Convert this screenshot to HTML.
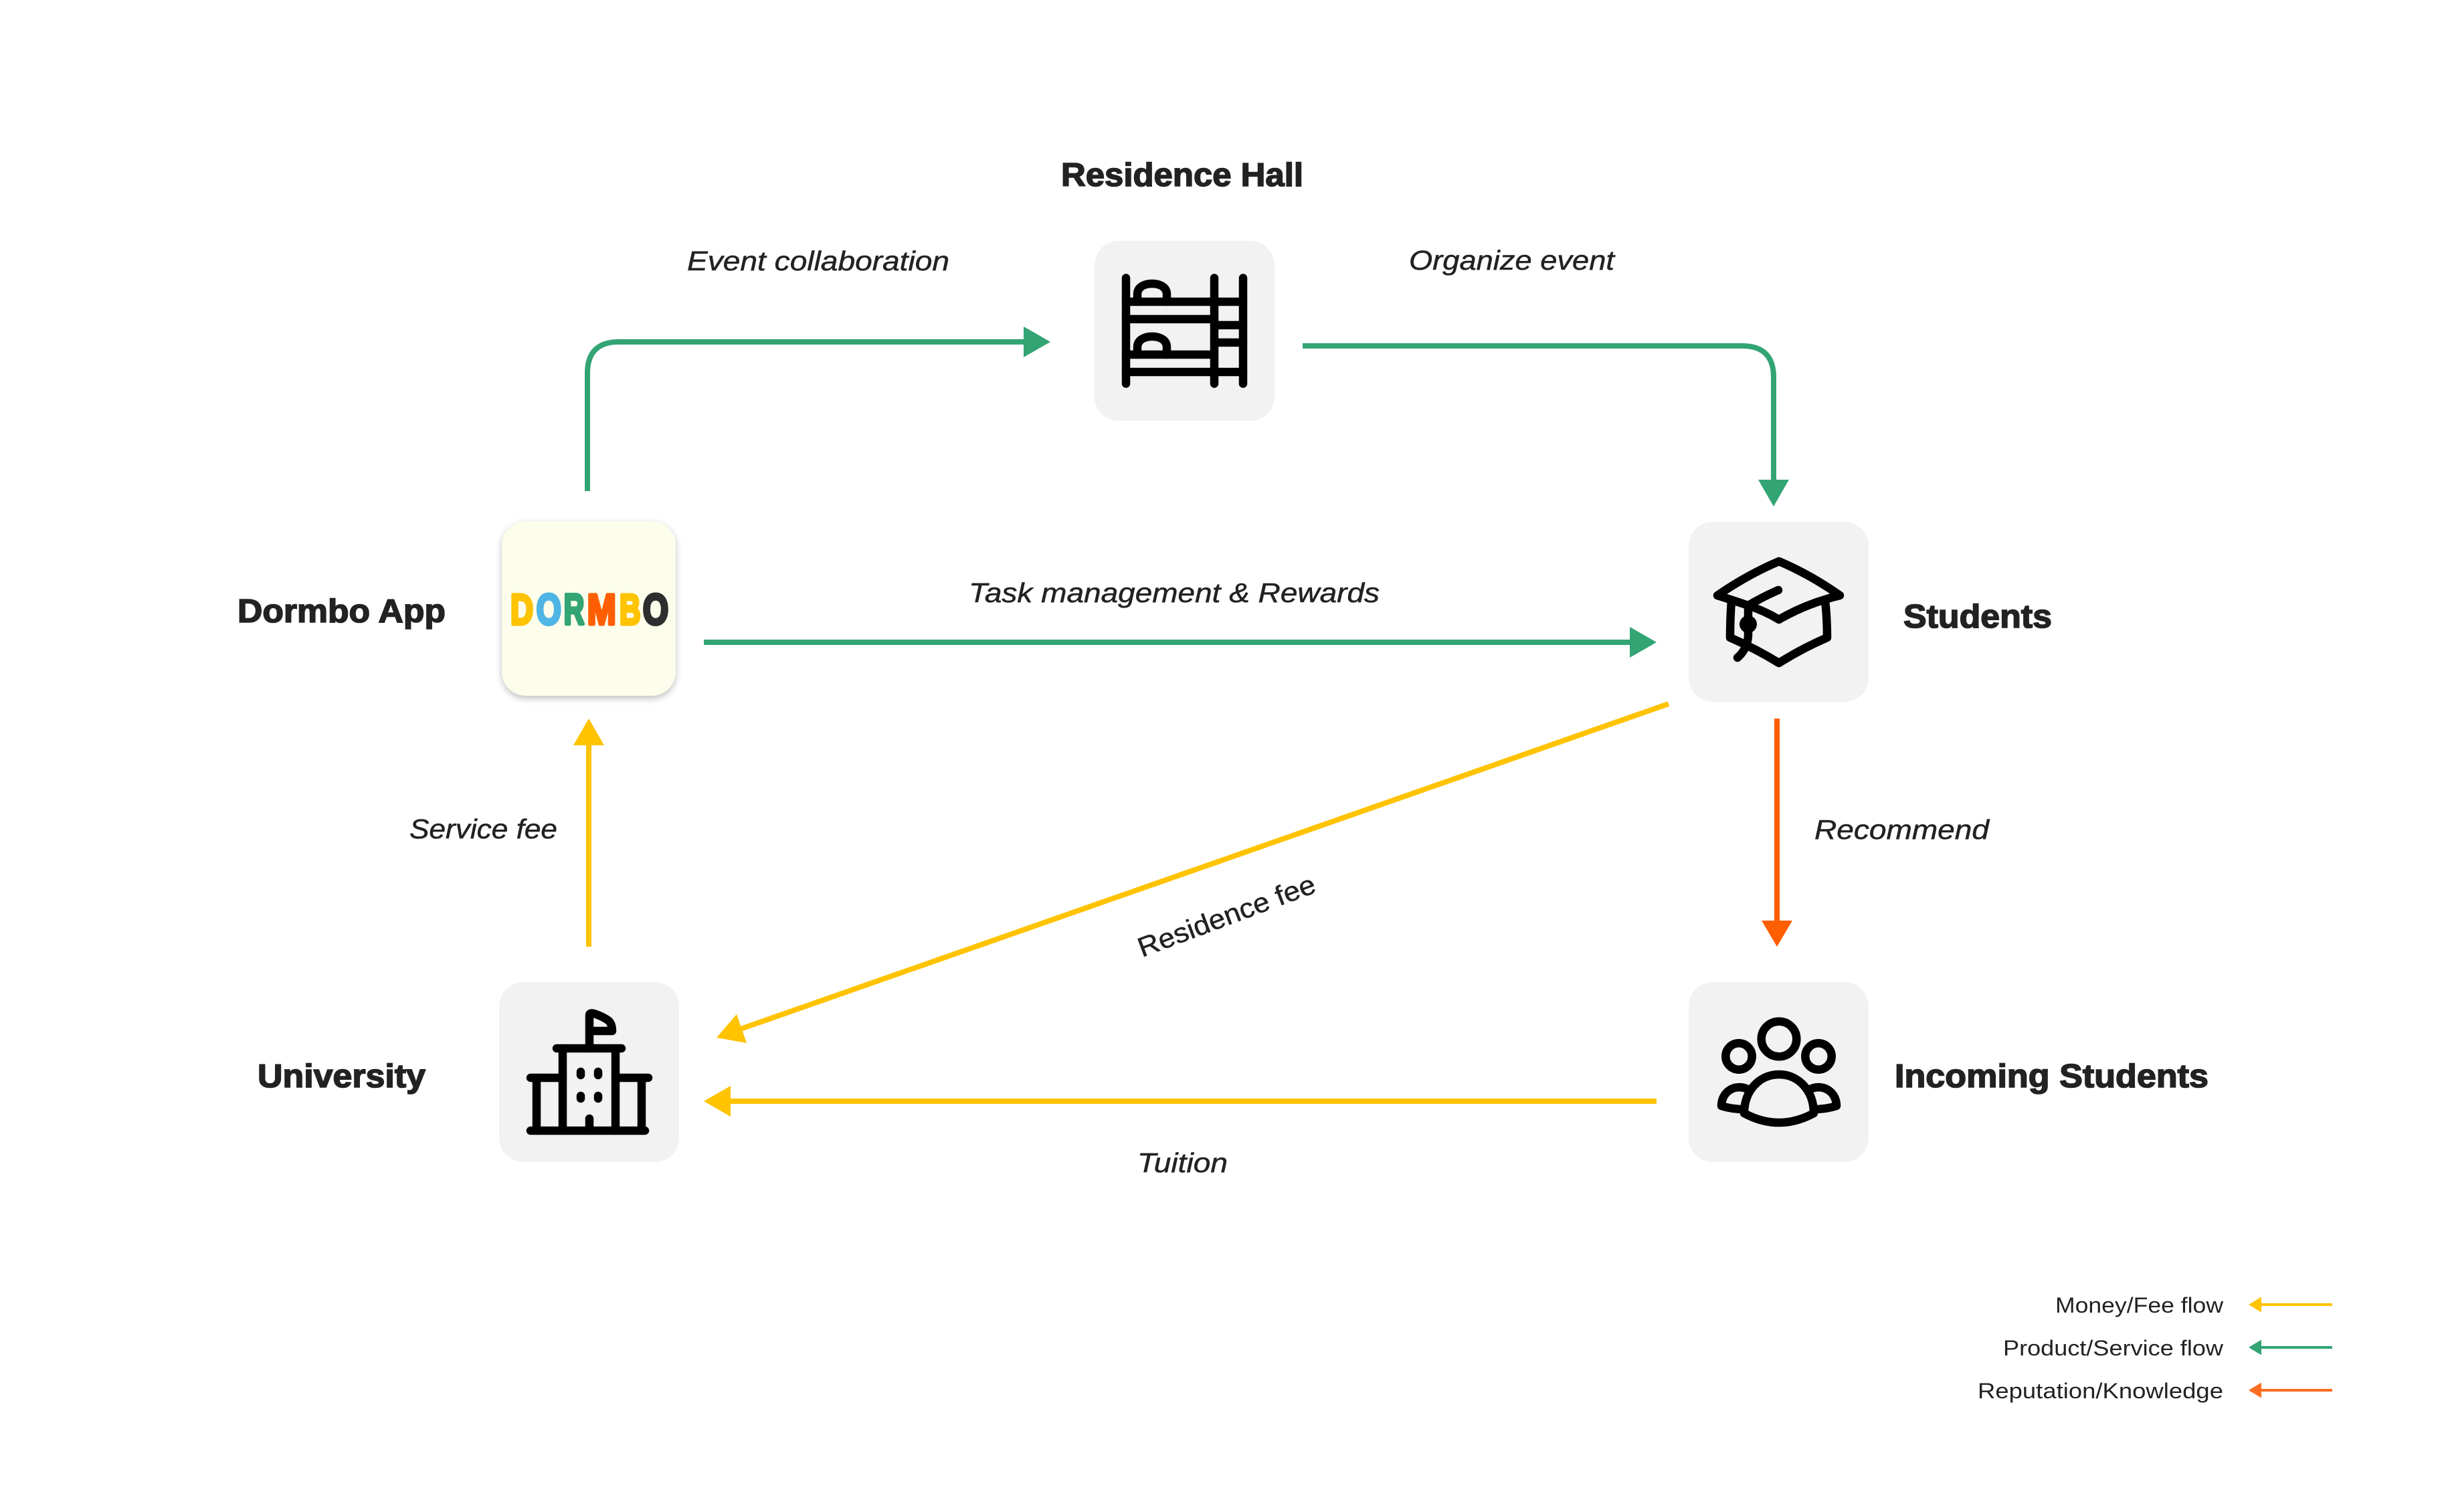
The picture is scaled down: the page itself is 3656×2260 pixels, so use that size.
<!DOCTYPE html>
<html lang="en">
<head>
<meta charset="utf-8">
<title>Dormbo value flow diagram</title>
<style>
html,body{margin:0;padding:0;background:#fff;}
body{width:3656px;height:2260px;overflow:hidden;}
svg{display:block;}
text{font-family:"Liberation Sans",sans-serif;fill:#222;}
.h{font-size:49px;font-weight:700;stroke:#222;stroke-width:1.6px;}
.i{font-size:41px;font-style:italic;stroke:#222;stroke-width:.5px;}
.l{font-size:32px;}
.ic{fill:none;stroke:#000;stroke-width:12.5;stroke-linecap:round;stroke-linejoin:round;}
.d{font-size:64px;font-weight:700;stroke-width:5px;stroke-linejoin:round;}
</style>
</head>
<body>
<svg width="3656" height="2260" viewBox="0 0 3656 2260" xmlns="http://www.w3.org/2000/svg">
<defs>
<filter id="sh" x="-20%" y="-20%" width="140%" height="140%">
<feDropShadow dx="0" dy="4" stdDeviation="5" flood-color="#000" flood-opacity="0.25"/>
</filter>
</defs>
<rect width="3656" height="2260" fill="#fff"/>

<!-- boxes -->
<rect x="1636" y="360" width="269" height="269" rx="36" fill="#f2f2f2"/>
<rect x="750" y="779" width="260" height="261" rx="36" fill="#fcfdeb" filter="url(#sh)"/>
<rect x="2524" y="780" width="269" height="269" rx="36" fill="#f2f2f2"/>
<rect x="746" y="1468" width="269" height="269" rx="36" fill="#f2f2f2"/>
<rect x="2524" y="1468" width="269" height="269" rx="36" fill="#f2f2f2"/>

<!-- connectors -->
<g fill="none" stroke-width="8">
<path d="M878 734V558Q878 511 925 511H1532" stroke="#33a474"/>
<path d="M1947 517H2604Q2651 517 2651 564V719" stroke="#33a474"/>
<path d="M1052 960H2438" stroke="#33a474"/>
<path d="M880 1415V1112" stroke="#ffc300"/>
<path d="M2656 1074V1378" stroke="#ff5f00"/>
<path d="M2494 1052L1108.500 1537.500" stroke="#ffc300"/>
<path d="M2476 1646H1090" stroke="#ffc300"/>
</g>
<polygon points="1570,511 1530,488 1530,534" fill="#33a474"/>
<polygon points="2651,757 2628,717 2674,717" fill="#33a474"/>
<polygon points="2476,960 2436,937 2436,983" fill="#33a474"/>
<polygon points="880,1074 857,1114 903,1114" fill="#ffc300"/>
<polygon points="2656,1415 2633,1376 2679,1376" fill="#ff5f00"/>
<polygon points="1071,1551 1101,1516 1116,1559" fill="#ffc300"/>
<polygon points="1052,1646 1092,1623 1092,1669" fill="#ffc300"/>

<!-- bunk bed icon -->
<g class="ic">
<path d="M1683 415.500V573.500M1815 415.500V573.500M1858 415.500V573.500"/>
<path d="M1683 451H1858M1683 477H1815M1815 486H1858M1815 512H1858M1683 530H1815M1683 556H1858"/>
<path d="M1700 451V440C1700 428 1712 424 1722 424C1732 424 1744 428 1744 440V451"/>
<path d="M1700 530V519C1700 507 1712 503 1722 503C1732 503 1744 507 1744 519V530"/>
</g>

<!-- graduation cap icon -->
<g class="ic">
<path d="M2567 890Q2612 859 2659 839Q2706 859 2750 890Q2700 902 2659 926Q2637 913 2613 905Q2590 897 2567 890Z"/>
<path d="M2588 897Q2586 925 2586 953Q2625 970 2659 991Q2692 970 2731 953Q2731 925 2728 897"/>
<path d="M2613 905Q2635 892 2658 882"/>
<path d="M2613 905V950Q2612 970 2597 983"/>
</g>
<circle cx="2613" cy="933" r="13" fill="#000"/>

<!-- university icon -->
<g class="ic">
<path d="M793 1690H964M793 1611H841M920 1611H969M832 1567H929"/>
<path d="M802 1611V1690M841 1567V1690M920 1567V1690M959 1611V1690"/>
<path d="M881 1567V1518Q881 1513 888 1515C897 1518 905 1522 910 1526C914 1530 915 1535 915 1541H881"/>
<path d="M868 1602V1607M894 1602V1607M868 1638V1642M894 1638V1642M881 1672V1690"/>
</g>

<!-- people icon -->
<g class="ic">
<circle cx="2659" cy="1553" r="26.300"/>
<circle cx="2599" cy="1579" r="19.700"/>
<circle cx="2718" cy="1579" r="19.700"/>
<path d="M2607 1664C2607 1630 2630 1606 2659 1606C2688 1606 2711 1630 2711 1664Q2659 1692 2607 1664Z"/>
<path d="M2610 1627C2590 1620 2573 1634 2573 1653Q2588 1658 2607 1658"/>
<path d="M2708 1627C2728 1620 2745 1634 2745 1653Q2730 1658 2711 1658"/>
</g>

<!-- logo -->
<text class="d" x="763" y="933" textLength="34" lengthAdjust="spacingAndGlyphs" style="fill:#ffc300;stroke:#ffc300">D</text>
<text class="d" x="801.700" y="933" textLength="37" lengthAdjust="spacingAndGlyphs" style="fill:#4eb5e5;stroke:#4eb5e5">O</text>
<text class="d" x="842.700" y="933" textLength="30.500" lengthAdjust="spacingAndGlyphs" style="fill:#33a474;stroke:#33a474">R</text>
<text class="d" x="877.800" y="933" textLength="43" lengthAdjust="spacingAndGlyphs" style="fill:#ff5f00;stroke:#ff5f00">M</text>
<text class="d" x="926" y="933" textLength="31.500" lengthAdjust="spacingAndGlyphs" style="fill:#ffc300;stroke:#ffc300">B</text>
<text class="d" x="961" y="933" textLength="38" lengthAdjust="spacingAndGlyphs" style="fill:#2e2e2e;stroke:#2e2e2e">O</text>

<!-- node labels -->
<text class="h" x="1586" y="278" textLength="362" lengthAdjust="spacingAndGlyphs">Residence Hall</text>
<text class="h" x="355" y="930" textLength="311" lengthAdjust="spacingAndGlyphs">Dormbo App</text>
<text class="h" x="2845" y="938" textLength="222" lengthAdjust="spacingAndGlyphs">Students</text>
<text class="h" x="385" y="1625" textLength="251" lengthAdjust="spacingAndGlyphs">University</text>
<text class="h" x="2832" y="1625" textLength="469" lengthAdjust="spacingAndGlyphs">Incoming Students</text>

<!-- connector labels -->
<text class="i" x="1027" y="404" textLength="392" lengthAdjust="spacingAndGlyphs">Event collaboration</text>
<text class="i" x="2106" y="403" textLength="307" lengthAdjust="spacingAndGlyphs">Organize event</text>
<text class="i" x="1448" y="900" textLength="614" lengthAdjust="spacingAndGlyphs">Task management &amp; Rewards</text>
<text class="i" x="612" y="1253" textLength="221" lengthAdjust="spacingAndGlyphs">Service fee</text>
<text class="i" x="2712" y="1254" textLength="261" lengthAdjust="spacingAndGlyphs">Recommend</text>
<text class="i" x="1700" y="1752" textLength="135" lengthAdjust="spacingAndGlyphs">Tuition</text>
<text class="i" style="font-style:normal" transform="translate(1707 1431) rotate(-20.500)" textLength="280" lengthAdjust="spacingAndGlyphs">Residence fee</text>

<!-- legend -->
<text class="l" x="3072" y="1962" textLength="251" lengthAdjust="spacingAndGlyphs">Money/Fee flow</text>
<text class="l" x="2994" y="2026" textLength="329" lengthAdjust="spacingAndGlyphs">Product/Service flow</text>
<text class="l" x="2956" y="2090" textLength="367" lengthAdjust="spacingAndGlyphs">Reputation/Knowledge</text>
<path d="M3486 1950H3378" stroke="#ffc300" stroke-width="4"/>
<path d="M3486 2014H3378" stroke="#33a474" stroke-width="4"/>
<path d="M3486 2078H3378" stroke="#ff6d22" stroke-width="4"/>
<polygon points="3361,1950 3380,1938.500 3380,1961.500" fill="#ffc300"/>
<polygon points="3361,2014 3380,2002.500 3380,2025.500" fill="#33a474"/>
<polygon points="3361,2078 3380,2066.500 3380,2089.500" fill="#ff6d22"/>
</svg>
</body>
</html>
